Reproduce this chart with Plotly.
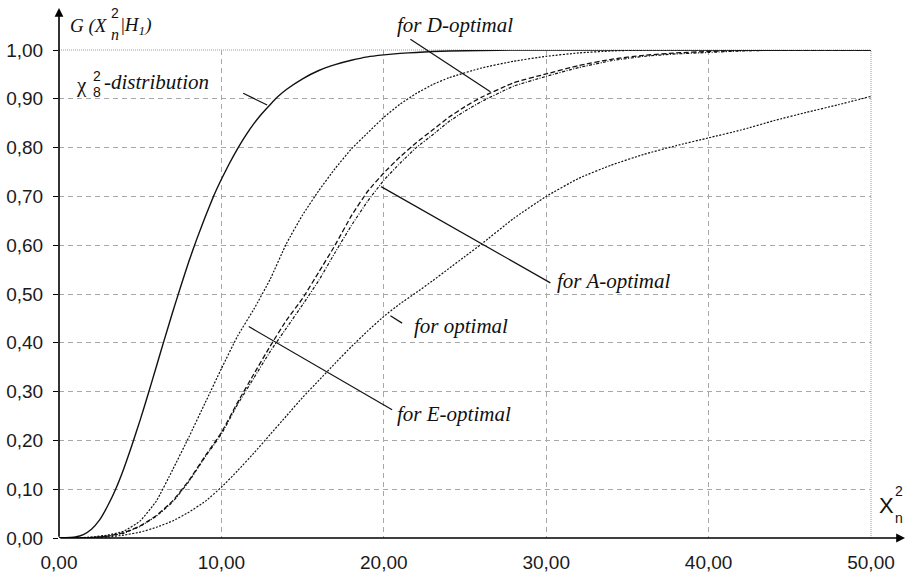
import plotly.graph_objects as go

# ---------------- data ----------------
x_tick_vals = [0, 10, 20, 30, 40, 50]
x_tick_text = ["0,00", "10,00", "20,00", "30,00", "40,00", "50,00"]
y_tick_vals = [0.0, 0.1, 0.2, 0.3, 0.4, 0.5, 0.6, 0.7, 0.8, 0.9, 1.0]
y_tick_text = ["0,00", "0,10", "0,20", "0,30", "0,40", "0,50",
               "0,60", "0,70", "0,80", "0,90", "1,00"]

chi2_x = [0, 1, 1.5, 2, 2.5, 3, 3.5, 4, 4.5, 5, 5.5, 6, 6.5, 7, 7.5, 8, 8.5, 9,
          9.5, 10, 10.5, 11, 11.5, 12, 12.5, 13, 13.5, 14, 15, 16, 17, 18, 19,
          20, 21, 22, 23, 24, 26, 28, 30, 35, 40, 45, 50]
chi2_y = [0, 0.002, 0.007, 0.018, 0.037, 0.066, 0.101, 0.143, 0.191, 0.242,
          0.296, 0.352, 0.408, 0.463, 0.516, 0.567, 0.614, 0.658, 0.699, 0.735,
          0.768, 0.798, 0.825, 0.849, 0.870, 0.888, 0.905, 0.919, 0.941, 0.958,
          0.970, 0.979, 0.986, 0.990, 0.993, 0.995, 0.997, 0.998, 0.999, 1.0,
          1.0, 1.0, 1.0, 1.0, 1.0]

e_opt_x = [0, 1, 2, 3, 4, 5, 6, 7, 8, 9, 10, 11, 12, 13, 14, 15, 16, 17, 18,
           19, 20, 21, 22, 23, 24, 26, 28, 30, 32, 34, 36, 40, 50]
e_opt_y = [0, 0.0, 0.002, 0.006, 0.014, 0.035, 0.076, 0.140, 0.207, 0.277,
           0.347, 0.414, 0.469, 0.530, 0.603, 0.662, 0.712, 0.757, 0.797,
           0.830, 0.862, 0.889, 0.911, 0.929, 0.943, 0.963, 0.977, 0.987,
           0.994, 0.998, 1.0, 1.0, 1.0]

d_opt_x = [0, 2, 3, 4, 5, 6, 7, 8, 9, 10, 11, 12, 13, 14, 15, 16, 17, 18, 19,
           20, 21, 22, 23, 24, 25, 26, 28, 30, 32, 34, 36, 38, 40, 42, 45, 50]
d_opt_y = [0, 0.001, 0.004, 0.011, 0.025, 0.046, 0.076, 0.118, 0.168, 0.216,
           0.278, 0.336, 0.393, 0.446, 0.491, 0.545, 0.600, 0.660, 0.710,
           0.748, 0.781, 0.810, 0.836, 0.862, 0.884, 0.903, 0.933, 0.951,
           0.968, 0.981, 0.989, 0.994, 0.997, 0.999, 1.0, 1.0]

a_opt_x = [0, 2, 3, 4, 5, 6, 7, 8, 9, 10, 11, 12, 13, 14, 15, 16, 17, 18, 19,
           20, 21, 22, 23, 24, 25, 26, 28, 30, 32, 34, 36, 38, 40, 42, 45, 50]
a_opt_y = [0, 0.001, 0.004, 0.010, 0.024, 0.045, 0.074, 0.116, 0.166, 0.213,
           0.274, 0.328, 0.382, 0.430, 0.478, 0.528, 0.585, 0.640, 0.690,
           0.733, 0.768, 0.800, 0.826, 0.853, 0.875, 0.894, 0.926, 0.946,
           0.964, 0.978, 0.987, 0.992, 0.995, 0.998, 1.0, 1.0]

opt_x = [0, 2, 3, 4, 5, 6, 7, 8, 9, 10, 11, 12, 13, 14, 15, 16, 17, 18, 19,
         20, 21, 22, 23, 24, 25, 26, 28, 30, 32, 34, 36, 38, 40, 42, 44, 46,
         48, 50]
opt_y = [0, 0.0, 0.002, 0.006, 0.012, 0.022, 0.035, 0.053, 0.075, 0.104,
         0.138, 0.174, 0.212, 0.250, 0.288, 0.323, 0.358, 0.392, 0.424,
         0.454, 0.480, 0.503, 0.527, 0.552, 0.577, 0.602, 0.655, 0.700,
         0.737, 0.764, 0.786, 0.804, 0.820, 0.836, 0.855, 0.872, 0.888, 0.905]

# ---------------- layout geometry ----------------
W, H = 906, 572
ML, MR, MT, MB = 58.5, 35.3, 50, 33.7
PW, PH = W - ML - MR, H - MT - MB


def px2p(px):
    return (px - ML) / PW


def py2p(py):
    return (H - MB - py) / PH


SERIF = "Liberation Serif, Times New Roman, serif"
SANS = "Liberation Sans, Arial, sans-serif"
INK = "#111111"

fig = go.Figure()


def curve(xs, ys, dash, width):
    fig.add_trace(go.Scatter(x=xs, y=ys, mode="lines",
                             line=dict(color=INK, width=width, dash=dash,
                                       shape="spline", smoothing=0.4),
                             hoverinfo="skip", showlegend=False))


curve(opt_x, opt_y, "2px,1.5px", 1.2)
curve(e_opt_x, e_opt_y, "2px,1.5px", 1.2)
curve(a_opt_x, a_opt_y, "3px,1.5px,1px,1.5px", 1.2)
curve(d_opt_x, d_opt_y, "5px,2.5px", 1.3)
curve(chi2_x, chi2_y, "solid", 1.4)

shapes = []
# finer dotted top line (1,00) and right border (50,00)
for (x0, y0, x1, y1) in [(0, 1, 1, 1), (1, 0, 1, 1)]:
    shapes.append(dict(type="line", xref="paper", yref="paper", x0=x0, y0=y0,
                       x1=x1, y1=y1, layer="between",
                       line=dict(color="white", width=2.5)))
    shapes.append(dict(type="line", xref="paper", yref="paper", x0=x0, y0=y0,
                       x1=x1, y1=y1, layer="between",
                       line=dict(color="#9a9a9a", width=1, dash="1px,1px")))

# leader lines of the labels (pixel positions of the picture)
leaders = [((242.7, 93.3), (266.7, 105.0)),
           ((410.0, 39.3), (490.0, 91.7)),
           ((550.0, 283.0), (380.7, 186.7)),
           ((401.7, 323.3), (390.0, 316.0)),
           ((391.7, 410.0), (248.3, 326.7))]
for (p0, p1) in leaders:
    shapes.append(dict(type="line", xref="paper", yref="paper",
                       x0=px2p(p0[0]), y0=py2p(p0[1]),
                       x1=px2p(p1[0]), y1=py2p(p1[1]),
                       line=dict(color=INK, width=1.2)))

ann = []


def label(text, px, py, size, family=SERIF, xanchor="left", pad=1):
    ann.append(dict(text=text, x=px2p(px), y=py2p(py), xref="paper",
                    yref="paper", xanchor=xanchor, yanchor="middle",
                    showarrow=False, borderpad=pad,
                    font=dict(family=family, size=size, color=INK)))


# y-axis title  G (X_n^2 | H_1)
label("<i>G (X</i>", 109, 26, 19, xanchor="right", pad=0)
label("<i>n</i>", 115, 34, 16, xanchor="center", pad=0)
label("2", 115, 13, 14, family=SANS, xanchor="center", pad=0)
label("|<i>H</i><sub><i>1</i></sub><i>)</i>", 120, 26, 19, pad=0)

# chi^2_8 - distribution
label("χ", 75, 85, 21, family=SERIF, pad=0)
label("2", 97, 76, 14, family=SANS, xanchor="center", pad=0)
label("8", 97, 92, 14, family=SANS, xanchor="center", pad=0)
label("<i>-distribution</i>", 103, 82, 21, pad=0)

label("<i>for D-optimal</i>", 455, 25, 21, xanchor="center")
label("<i>for A-optimal</i>", 555, 281, 21)
label("<i>for optimal</i>", 412, 326, 21)
label("<i>for E-optimal</i>", 395, 414, 21)

# x-axis title X_n^2
label("X", 886, 506, 22, family=SANS, xanchor="center", pad=0)
label("2", 899, 491, 14, family=SANS, xanchor="center", pad=0)
label("n", 899, 518, 14, family=SANS, xanchor="center", pad=0)

# axes with arrow heads (tail offsets in pixels)
ann.append(dict(x=0, y=py2p(8), xref="paper", yref="paper",
                ax=0, ay=(H - MB) - 8, text="", showarrow=True, arrowhead=2,
                arrowsize=1.1, arrowwidth=1.6, arrowcolor="black"))
ann.append(dict(x=px2p(905), y=0, xref="paper", yref="paper",
                ax=-(905 - ML), ay=0, text="", showarrow=True, arrowhead=2,
                arrowsize=1.1, arrowwidth=1.6, arrowcolor="black"))

grid = dict(showgrid=True, gridcolor="#a8a8a8", gridwidth=1,
            griddash="5px,4px", zeroline=False, showline=False,
            automargin=False)

fig.update_layout(
    width=W, height=H,
    margin=dict(l=ML, r=MR, t=MT, b=MB, autoexpand=False),
    paper_bgcolor="white", plot_bgcolor="white",
    showlegend=False,
    shapes=shapes, annotations=ann,
    xaxis=dict(range=[0, 50], tickmode="array", tickvals=x_tick_vals,
               ticktext=x_tick_text, ticks="", ticklabelstandoff=11,
               tickfont=dict(family=SANS, size=19, color="#1a1a1a"), **grid),
    yaxis=dict(range=[0, 1], tickmode="array", tickvals=y_tick_vals,
               ticktext=y_tick_text, ticks="outside", ticklen=5,
               tickcolor="black", ticklabelstandoff=6,
               tickfont=dict(family=SANS, size=19, color="#1a1a1a"), **grid),
)

fig.write_html("out.html", config={"displayModeBar": False},
               post_script="document.body.style.margin='0px';"
                           "document.body.style.overflow='hidden';")
